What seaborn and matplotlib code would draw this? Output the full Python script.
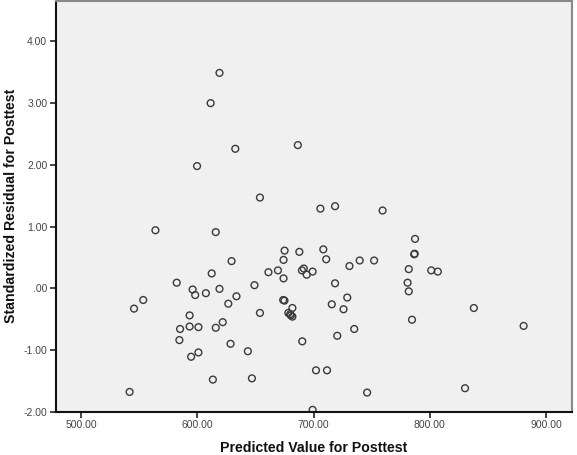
import numpy as np
import pandas as pd
import matplotlib
matplotlib.use("Agg")
import matplotlib.pyplot as plt
from matplotlib.ticker import FixedLocator, FuncFormatter
import seaborn as sns

sns.set_style("white")
plt.rcParams["font.family"] = ["Liberation Sans", "DejaVu Sans"]

# predicted value / standardized residual
predicted = [
    619.1, 611.5, 632.7, 686.5, 599.8, 653.9, 705.9, 718.5, 759.4, 564.0,
    615.9, 787.3, 675.1, 687.8, 708.4, 674.2, 710.9, 629.5, 739.7, 752.1,
    786.6, 787.0, 730.9, 612.4, 661.2, 669.4, 674.2, 690.0, 691.6, 694.1,
    699.2, 781.9, 801.2, 806.9, 582.3, 596.0, 598.2, 607.4, 619.1, 649.2,
    718.5, 780.9, 781.9, 553.5, 545.6, 633.7, 626.7, 673.9, 675.0, 681.8,
    678.3, 679.9, 681.8, 680.5, 653.9, 715.7, 729.0, 725.8, 837.9, 880.7,
    784.7, 735.0, 720.4, 690.3, 593.4, 593.4, 585.2, 601.0, 584.6, 615.9,
    621.9, 628.6, 601.0, 594.7, 643.5, 702.1, 711.6, 613.4, 647.0, 541.8,
    746.1, 830.3, 699.2,
]
residual = [
    3.49, 3.00, 2.26, 2.32, 1.98, 1.47, 1.29, 1.33, 1.26, 0.94,
    0.91, 0.80, 0.61, 0.59, 0.63, 0.46, 0.47, 0.44, 0.45, 0.45,
    0.55, 0.56, 0.36, 0.24, 0.26, 0.29, 0.16, 0.29, 0.32, 0.22,
    0.27, 0.31, 0.29, 0.27, 0.09, -0.02, -0.11, -0.08, -0.01, 0.05,
    0.08, 0.09, -0.05, -0.19, -0.33, -0.13, -0.25, -0.19, -0.20, -0.32,
    -0.40, -0.42, -0.46, -0.44, -0.40, -0.26, -0.15, -0.34, -0.32, -0.61,
    -0.51, -0.66, -0.77, -0.86, -0.44, -0.62, -0.66, -0.63, -0.84, -0.64,
    -0.55, -0.90, -1.04, -1.11, -1.02, -1.33, -1.33, -1.48, -1.46, -1.68,
    -1.69, -1.62, -1.97,
]
x_ticks = [500, 600, 700, 800, 900]
y_ticks = [-2, -1, 0, 1, 2, 3, 4]

df = pd.DataFrame({"Predicted": predicted, "Residual": residual})


def spss_fmt(v, pos=None):
    # SPSS drops the leading zero: ".00"
    s = f"{v:.2f}"
    if s.startswith("0."):
        s = s[1:]
    return s


fig = plt.figure(figsize=(5.77, 4.55), dpi=100)
ax = fig.add_axes([0.0965, 0.0952, 0.895, 0.9033])
ax.set_facecolor("#f0f0f0")

sns.scatterplot(
    data=df, x="Predicted", y="Residual", ax=ax,
    marker="o", s=24, facecolor="none", edgecolor="#3a3a3a", linewidth=1.0,
)

ax.set_xlim(478.2, 922.4)
ax.set_ylim(-2.0, 4.66)
ax.xaxis.set_major_locator(FixedLocator(x_ticks))
ax.yaxis.set_major_locator(FixedLocator(y_ticks))
ax.xaxis.set_major_formatter(FuncFormatter(spss_fmt))
ax.yaxis.set_major_formatter(FuncFormatter(spss_fmt))
ax.tick_params(axis="both", direction="out", length=4, width=1.2,
               color="#222222", labelsize=7.5, labelcolor="#444444", pad=2)
ax.tick_params(left=True, bottom=True)

for side in ["left", "bottom"]:
    ax.spines[side].set_color("#111111")
    ax.spines[side].set_linewidth(1.5)
for side in ["top", "right"]:
    ax.spines[side].set_color("#888888")
    ax.spines[side].set_linewidth(1.5)

ax.set_xlabel("Predicted Value for Posttest", fontsize=10.2, fontweight="bold",
              color="#111111", labelpad=8)
ax.set_ylabel("Standardized Residual for Posttest", fontsize=10.2,
              fontweight="bold", color="#111111", labelpad=4)

fig.savefig("out.png", dpi=100, facecolor="white")
